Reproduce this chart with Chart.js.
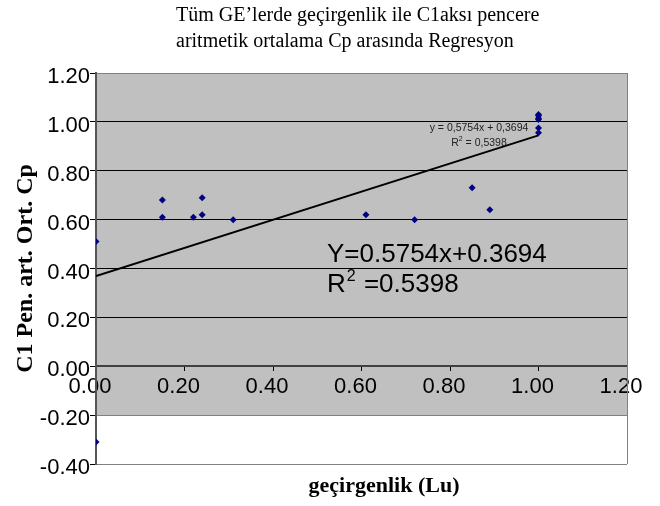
<!DOCTYPE html>
<html><head><meta charset="utf-8">
<script src="https://cdn.jsdelivr.net/npm/chart.js@4.4.1/dist/chart.umd.min.js"></script>
<style>html,body{margin:0;padding:0;background:#fff}#wrap{width:660px;height:506px}</style>
</head><body><div id="wrap"><canvas id="c" width="660" height="506"></canvas></div>
<script>
const titleLines = ["Tüm GE’lerde geçirgenlik ile C1aksı pencere", "aritmetik ortalama Cp arasında Regresyon"];
const xAxisTitle = "geçirgenlik (Lu)";
const yAxisTitle = "C1 Pen. art. Ort. Cp";
const xValues = [0, 0, 0.15, 0.15, 0.22, 0.24, 0.24, 0.31, 0.61, 0.72, 0.85, 0.89, 1, 1, 1, 1, 1, 1];
const yValues = [0.51, -0.31, 0.68, 0.61, 0.61, 0.69, 0.62, 0.60, 0.62, 0.60, 0.73, 0.64, 1.03, 1.025, 1.015, 1.01, 0.975, 0.955];
const trendSlope = 0.5754;
const trendIntercept = 0.3694;
const trendR2 = 0.5398;
const trendX = [0, 1];
const xMin = 0, xMax = 1.2, xStep = 0.2;
const yMin = -0.4, yMax = 1.2, yStep = 0.2;
const greyBottom = -0.2;
const smallEqText = "y = 0,5754x + 0,3694";
const smallR2Text = " = 0,5398";
const bigEqText = "Y=0.5754x+0.3694";
const bigR2Text = " =0.5398";

const SANS = "'Liberation Sans', Arial, sans-serif";
const SERIF = "'Liberation Serif', 'Times New Roman', serif";

const points = xValues.map((x, i) => ({x, y: yValues[i]}));
const trendPts = trendX.map(x => ({x, y: trendIntercept + trendSlope * x}));

function fmt(v) { if (Math.abs(v) < 1e-9) v = 0; return v.toFixed(2); }

const deco = {
  id: 'deco',
  beforeDraw(chart) {
    const {ctx, scales: {x, y}} = chart;
    ctx.save();
    ctx.fillStyle = '#fff';
    ctx.fillRect(0, 0, chart.width, chart.height);
    const l = x.getPixelForValue(xMin), r = x.getPixelForValue(xMax);
    const t = y.getPixelForValue(yMax), b = y.getPixelForValue(greyBottom);
    ctx.fillStyle = '#c0c0c0';
    ctx.fillRect(l, t, r - l, b - t);
    ctx.restore();
  },
  beforeDatasetsDraw(chart) {
    const {ctx, scales: {x, y}} = chart;
    ctx.save();
    ctx.strokeStyle = '#808080';
    ctx.lineWidth = 1;
    const r = Math.round(x.getPixelForValue(xMax)) + 0.5;
    ctx.beginPath();
    ctx.moveTo(r, y.getPixelForValue(yMax));
    ctx.lineTo(r, y.getPixelForValue(yMin));
    ctx.stroke();
    ctx.restore();
  },
  afterDraw(chart) {
    const {ctx} = chart;
    ctx.save();
    ctx.fillStyle = '#000';
    ctx.textBaseline = 'alphabetic';
    ctx.font = "20px " + SERIF;
    ctx.textAlign = 'left';
    ctx.fillText(titleLines[0], 176, 21);
    ctx.fillText(titleLines[1], 176, 47);
    ctx.font = "bold 22px " + SERIF;
    ctx.textAlign = 'center';
    ctx.fillText(xAxisTitle, 384, 492);
    ctx.font = "10.5px " + SANS;
    ctx.fillStyle = '#222';
    ctx.textAlign = 'center';
    ctx.fillText(smallEqText, 479, 131);
    ctx.textAlign = 'left';
    const wR = ctx.measureText('R').width;
    ctx.font = "7px " + SANS;
    const w2 = ctx.measureText('2').width;
    ctx.font = "10.5px " + SANS;
    const wRest = ctx.measureText(smallR2Text).width;
    let sx = 479 - (wR + w2 + wRest) / 2;
    ctx.fillText('R', sx, 146);
    ctx.font = "7px " + SANS;
    ctx.fillText('2', sx + wR, 141);
    ctx.font = "10.5px " + SANS;
    ctx.fillText(smallR2Text, sx + wR + w2, 146);
    ctx.fillStyle = '#000';
    ctx.font = "26px " + SANS;
    ctx.fillText(bigEqText, 327, 262);
    ctx.fillText('R', 327, 292);
    const bR = ctx.measureText('R').width;
    ctx.font = "16px " + SANS;
    ctx.fillText('2', 327 + bR + 1, 281);
    const b2 = ctx.measureText('2').width;
    ctx.font = "26px " + SANS;
    ctx.fillText(bigR2Text, 327 + bR + b2 + 2, 292);
    ctx.restore();
  }
};

new Chart(document.getElementById('c'), {
  data: {
    datasets: [
      {
        type: 'scatter',
        data: points,
        backgroundColor: '#000080',
        borderColor: '#000080',
        pointStyle: 'rectRot',
        pointRadius: 3.5,
        pointHoverRadius: 3.5,
        borderWidth: 0
      },
      {
        type: 'line',
        data: trendPts,
        borderColor: '#000',
        borderWidth: 2,
        pointRadius: 0,
        fill: false,
        tension: 0
      }
    ]
  },
  options: {
    responsive: false,
    animation: false,
    devicePixelRatio: 1,
    events: [],
    layout: { padding: { top: 73, right: 33, bottom: 42, left: 0 } },
    plugins: { legend: { display: false }, tooltip: { enabled: false }, title: { display: false } },
    scales: {
      x: {
        type: 'linear',
        position: { y: 0 },
        min: xMin, max: xMax,
        ticks: {
          stepSize: xStep,
          callback: v => fmt(v),
          font: { family: SANS, size: 22 },
          color: '#000',
          labelOffset: -6,
          padding: 3,
          maxRotation: 0,
          autoSkip: false
        },
        grid: { drawOnChartArea: false, drawTicks: true, tickLength: 4, tickColor: '#000', tickWidth: 1 },
        border: { display: true, color: '#404040', width: 2 }
      },
      y: {
        type: 'linear',
        position: 'left',
        min: yMin, max: yMax,
        afterFit: s => { s.width = 96; },
        ticks: {
          stepSize: yStep,
          callback: v => fmt(v),
          font: { family: SANS, size: 22 },
          color: '#000',
          labelOffset: 4,
          padding: 0,
          autoSkip: false
        },
        grid: {
          drawTicks: true,
          tickLength: 6,
          tickColor: '#000',
          color: c => {
            const v = c.tick ? c.tick.value : 0;
            if (Math.abs(v) < 1e-9) return '#404040';
            if (v > 1.1 || v < -0.1) return '#808080';
            return '#000';
          },
          lineWidth: 1
        },
        border: { display: true, color: '#555', width: 2 },
        title: {
          display: true,
          text: yAxisTitle,
          font: { family: SERIF, size: 24, weight: 'bold' },
          color: '#000',
          padding: { top: 11, bottom: 0 }
        }
      }
    }
  },
  plugins: [deco]
});
</script>
</body></html>
